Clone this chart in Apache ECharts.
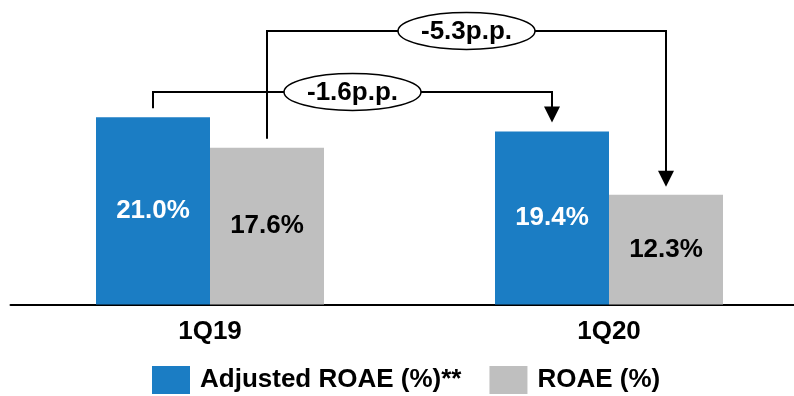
<!DOCTYPE html>
<html>
<head>
<meta charset="utf-8">
<style>
  html, body { margin: 0; padding: 0; background: #ffffff; }
  #chart { width: 794px; height: 396px; }
</style>
<script src="https://cdn.jsdelivr.net/npm/echarts@6/dist/echarts.min.js"></script>
</head>
<body>
<div id="chart"></div>
<script>
// Quarter categories and ROAE figures (%)
const quarters = ['1Q19', '1Q20'];
const adjustedRoae = [21.0, 19.4];
const roae = [17.6, 12.3];
const seriesNames = ['Adjusted ROAE (%)**', 'ROAE (%)'];
// Change labels (percentage points) shown above the bars
const changeAdjusted = '-1.6p.p.';
const changeRoae = '-5.3p.p.';

const FONT = '"Liberation Sans", Arial, sans-serif';
const FS = 26;
const BLUE = '#1B7DC4';
const GREY = '#BFBFBF';
const BAR_W = 114;

const chart = echarts.init(document.getElementById('chart'), null, { renderer: 'canvas' });

chart.setOption({
  animation: false,
  backgroundColor: '#ffffff',
  grid: {
    left: 10.5, right: -14.5, top: 37.1, bottom: 91.5,
    containLabel: false, outerBoundsMode: 'none'
  },
  legend: {
    left: 152, top: 366, padding: 0,
    itemWidth: 38, itemHeight: 28, itemGap: 28,
    icon: 'rect',
    textStyle: { fontFamily: FONT, fontWeight: 'bold', fontSize: FS, color: '#000', padding: [0, 0, 0, 5] },
    data: seriesNames
  },
  xAxis: {
    type: 'category',
    data: quarters,
    axisLine: { show: true, lineStyle: { color: '#000', width: 2 } },
    axisTick: { show: false },
    axisLabel: { margin: 14, fontFamily: FONT, fontWeight: 'bold', fontSize: FS, color: '#000' }
  },
  yAxis: {
    type: 'value', min: 0, max: 30,
    show: false, splitLine: { show: false }
  },
  series: [
    {
      name: seriesNames[0], type: 'bar', data: adjustedRoae,
      barWidth: BAR_W, barGap: '0%',
      itemStyle: { color: BLUE },
      label: {
        show: true, position: 'inside', color: '#fff',
        fontFamily: FONT, fontWeight: 'bold', fontSize: FS,
        formatter: p => p.value.toFixed(1) + '%'
      }
    },
    {
      name: seriesNames[1], type: 'bar', data: roae,
      barWidth: BAR_W, barGap: '0%',
      itemStyle: { color: GREY },
      label: {
        show: true, position: 'inside', color: '#000',
        fontFamily: FONT, fontWeight: 'bold', fontSize: FS,
        formatter: p => p.value.toFixed(1) + '%'
      }
    }
  ]
});

// Bracket arrows linking each series across the two quarters
function barTop(catIndex, seriesOffset, value) {
  const p = chart.convertToPixel({ xAxisIndex: 0, yAxisIndex: 0 }, [catIndex, value]);
  return [p[0] + seriesOffset * BAR_W / 2, p[1]];
}

function bracket(fromPt, toPt, levelY, label, gapStart, gapEnd) {
  const x1 = fromPt[0], x2 = toPt[0];
  const startY = fromPt[1] - gapStart;
  const tipY = toPt[1] - gapEnd;
  const headH = 16, headW = 8;
  const cx = (x1 + x2) / 2;
  const line = { stroke: '#000', lineWidth: 2, fill: null };
  return [
    {
      type: 'polyline', z: 10,
      shape: { points: [[x1, startY], [x1, levelY], [x2, levelY], [x2, tipY - headH + 1]] },
      style: line
    },
    {
      type: 'polygon', z: 10,
      shape: { points: [[x2 - headW, tipY - headH], [x2 + headW, tipY - headH], [x2, tipY]] },
      style: { fill: '#000' }
    },
    {
      type: 'ellipse', z: 11,
      shape: { cx: cx, cy: levelY, rx: 68.5, ry: 18.5 },
      style: { fill: '#fff', stroke: '#000', lineWidth: 1.5 }
    },
    {
      type: 'text', z: 12,
      x: cx, y: levelY + 1,
      style: {
        text: label, align: 'center', verticalAlign: 'middle',
        font: 'bold ' + FS + 'px ' + FONT, fill: '#000'
      }
    }
  ];
}

const g = []
  .concat(bracket(barTop(0, -1, adjustedRoae[0]), barTop(1, -1, adjustedRoae[1]), 92, changeAdjusted, 9, 9))
  .concat(bracket(barTop(0, 1, roae[0]), barTop(1, 1, roae[1]), 31, changeRoae, 9, 8));

chart.setOption({ graphic: g });
</script>
</body>
</html>
